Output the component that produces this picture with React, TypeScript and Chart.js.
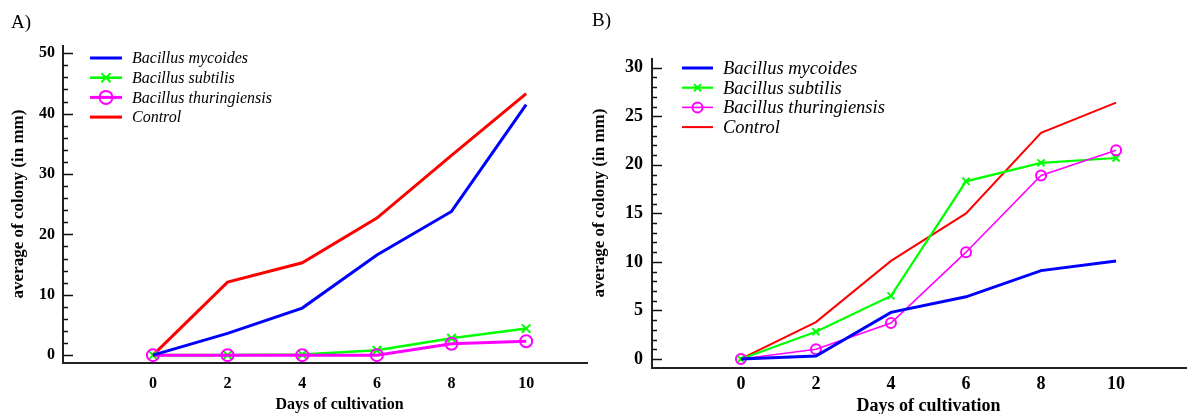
import React, { useEffect, useRef } from "react";
import { Chart, registerables } from "chart.js";

Chart.register(...registerables);

// ---------- DATA ----------
const DAYS = [0, 2, 4, 6, 8, 10];
const X_TICKS = [0, 2, 4, 6, 8, 10];
const SERIES_NAMES = [
  "Bacillus mycoides",
  "Bacillus subtilis",
  "Bacillus thuringiensis",
  "Control",
];

// Panel A
const A_MYCOIDES = [0, 3.6, 7.8, 16.6, 23.8, 41.5];
const A_SUBTILIS = [0, 0, 0.1, 0.8, 2.8, 4.4];
const A_THURINGIENSIS = [0, 0, 0, 0, 1.9, 2.3];
const A_CONTROL = [0, 12.1, 15.3, 22.7, 33.1, 43.3];
const A_Y_TICKS = [0, 10, 20, 30, 40, 50];

// Panel B
const B_MYCOIDES = [0, 0.3, 4.8, 6.4, 9.1, 10.1];
const B_SUBTILIS = [0, 2.8, 6.5, 18.3, 20.2, 20.7];
const B_THURINGIENSIS = [0, 1.0, 3.7, 11.0, 18.9, 21.5];
const B_CONTROL = [0, 3.8, 10.1, 15.0, 23.3, 26.4];
const B_Y_TICKS = [0, 5, 10, 15, 20, 25, 30];

const X_TITLE = "Days of cultivation";
const Y_TITLE = "average of colony (in mm)";

// ---------- STYLE / LAYOUT ----------
const SERIF = '"Liberation Serif", "Times New Roman", serif';
const COLORS = ["#0000ff", "#00ff00", "#ff00ff", "#ff0000"];
const ORDERS = [0, 2, 1, 3];

type Panel = {
  label: string;
  left: number;
  width: number;
  series: number[][];
  yTicks: number[];
  xMin: number;
  xMax: number;
  yMin: number;
  yMax: number;
  minorStep: number;
  majorStep: number;
  yAxisWidth: number;
  xAxisHeight: number;
  padTop: number;
  padRight: number;
  tickSize: number;
  yTickPad: number;
  xTickPad: number;
  lineWidths: number[];
  pointRadius: number;
  legendRadius: number;
  legend: { x0: number; x1: number; tx: number; y0: number; dy: number; size: number };
  yTitle: { x: number; y: number; size: number };
  xTitle: { y: number; size: number };
  panelLabel: { x: number; y: number; size: number };
};

const PANELS: Panel[] = [
  {
    label: "A)",
    left: 0,
    width: 588,
    series: [A_MYCOIDES, A_SUBTILIS, A_THURINGIENSIS, A_CONTROL],
    yTicks: A_Y_TICKS,
    xMin: -2.41,
    xMax: 11.63,
    yMin: -1.3,
    yMax: 51.2,
    minorStep: 2,
    majorStep: 10,
    yAxisWidth: 63,
    xAxisHeight: 51,
    padTop: 46,
    padRight: 1,
    tickSize: 16,
    yTickPad: 8,
    xTickPad: 11,
    lineWidths: [3, 2.6, 3, 3],
    pointRadius: 6,
    legendRadius: 6.5,
    legend: { x0: 90, x1: 122, tx: 132, y0: 58, dy: 19.7, size: 16 },
    yTitle: { x: 19, y: 204, size: 17 },
    xTitle: { y: 405, size: 16 },
    panelLabel: { x: 11, y: 23, size: 19 },
  },
  {
    label: "B)",
    left: 588,
    width: 599,
    series: [B_MYCOIDES, B_SUBTILIS, B_THURINGIENSIS, B_CONTROL],
    yTicks: B_Y_TICKS,
    xMin: -2.37,
    xMax: 11.89,
    yMin: -0.93,
    yMax: 30.9,
    minorStep: 1,
    majorStep: 5,
    yAxisWidth: 64,
    xAxisHeight: 46,
    padTop: 59,
    padRight: 0,
    tickSize: 18,
    yTickPad: 9,
    xTickPad: 6,
    lineWidths: [3, 2.2, 1.6, 2],
    pointRadius: 5,
    legendRadius: 5,
    legend: { x0: 94, x1: 125, tx: 135, y0: 68, dy: 19.7, size: 18.5 },
    yTitle: { x: 12, y: 203, size: 17 },
    xTitle: { y: 406, size: 18 },
    panelLabel: { x: 4, y: 21, size: 19 },
  },
];

function drawMarker(ctx: CanvasRenderingContext2D, style: string, x: number, y: number, r: number) {
  ctx.beginPath();
  if (style === "crossRot") {
    const d = r * Math.SQRT1_2;
    ctx.moveTo(x - d, y - d);
    ctx.lineTo(x + d, y + d);
    ctx.moveTo(x - d, y + d);
    ctx.lineTo(x + d, y - d);
  } else if (style === "circle") {
    ctx.arc(x, y, r, 0, Math.PI * 2);
  }
  ctx.stroke();
}

const decorPlugin = {
  id: "decor",
  afterDraw(chart: any) {
    const p: Panel = chart.options.plugins.decor.panel;
    const ctx: CanvasRenderingContext2D = chart.ctx;
    const { left } = chart.chartArea;
    const ys = chart.scales.y;
    const xs = chart.scales.x;
    ctx.save();

    // inward tick marks on y axis
    ctx.strokeStyle = "#111";
    ctx.lineWidth = 1.5;
    const first = p.yTicks[0];
    const last = p.yTicks[p.yTicks.length - 1];
    for (let v = first; v <= last + 1e-9; v += p.minorStep) {
      const y = Math.round(ys.getPixelForValue(v)) + 0.5;
      const ratio = v / p.majorStep;
      const major = Math.abs(ratio - Math.round(ratio)) < 1e-6;
      const len = major ? 10 : 5;
      ctx.beginPath();
      ctx.moveTo(left, y);
      ctx.lineTo(left + len, y);
      ctx.stroke();
    }

    ctx.fillStyle = "#000";
    // y title
    ctx.save();
    ctx.font = `bold ${p.yTitle.size}px ${SERIF}`;
    ctx.textAlign = "center";
    ctx.textBaseline = "middle";
    ctx.translate(p.yTitle.x, p.yTitle.y);
    ctx.rotate(-Math.PI / 2);
    ctx.fillText(Y_TITLE, 0, 0);
    ctx.restore();

    // x title centered on middle of data range
    ctx.font = `bold ${p.xTitle.size}px ${SERIF}`;
    ctx.textAlign = "center";
    ctx.textBaseline = "middle";
    const mid = (DAYS[0] + DAYS[DAYS.length - 1]) / 2;
    ctx.fillText(X_TITLE, xs.getPixelForValue(mid), p.xTitle.y);

    // panel label
    ctx.font = `${p.panelLabel.size}px ${SERIF}`;
    ctx.textAlign = "left";
    ctx.fillText(p.label, p.panelLabel.x, p.panelLabel.y);

    // legend
    const L = p.legend;
    chart.data.datasets.forEach((ds: any, i: number) => {
      const y = L.y0 + i * L.dy;
      ctx.strokeStyle = ds.borderColor;
      ctx.lineWidth = ds.borderWidth;
      ctx.beginPath();
      ctx.moveTo(L.x0, y);
      ctx.lineTo(L.x1, y);
      ctx.stroke();
      if (ds.pointRadius > 0) {
        ctx.lineWidth = ds.pointBorderWidth;
        drawMarker(ctx, ds.pointStyle, (L.x0 + L.x1) / 2, y, p.legendRadius);
      }
      ctx.fillStyle = "#000";
      ctx.font = `italic ${L.size}px ${SERIF}`;
      ctx.textAlign = "left";
      ctx.textBaseline = "middle";
      ctx.fillText(ds.label, L.tx, y + 1);
    });
    ctx.restore();
  },
};

function buildChart(canvas: HTMLCanvasElement, p: Panel) {
  const styles = [false, "crossRot", "circle", false];
  const datasets = p.series.map((vals, i) => ({
    label: SERIES_NAMES[i],
    data: DAYS.map((d, k) => ({ x: d, y: vals[k] })),
    borderColor: COLORS[i],
    backgroundColor: "transparent",
    borderWidth: p.lineWidths[i],
    pointStyle: styles[i] || "circle",
    pointRadius: styles[i] ? p.pointRadius : 0,
    pointBorderColor: COLORS[i],
    pointBackgroundColor: "transparent",
    pointBorderWidth: 2,
    tension: 0,
    order: ORDERS[i],
    clip: false,
  }));
  const tickFont = { family: SERIF, size: p.tickSize, weight: "bold" as const };
  return new Chart(canvas, {
    type: "line",
    data: { datasets },
    plugins: [decorPlugin],
    options: {
      animation: false,
      responsive: false,
      devicePixelRatio: 1,
      layout: {
        autoPadding: false,
        padding: { left: 0, top: p.padTop, right: p.padRight, bottom: 0 },
      },
      plugins: {
        legend: { display: false },
        tooltip: { enabled: false },
        decor: { panel: p },
      } as any,
      scales: {
        x: {
          type: "linear",
          min: p.xMin,
          max: p.xMax,
          grid: { display: false, drawTicks: false },
          border: { display: true, color: "#222", width: 2 },
          afterBuildTicks: (s: any) => {
            s.ticks = X_TICKS.map((v) => ({ value: v }));
          },
          afterFit: (s: any) => {
            s.height = p.xAxisHeight;
            s.paddingLeft = 0;
            s.paddingRight = 0;
          },
          ticks: {
            color: "#000",
            font: tickFont,
            padding: p.xTickPad,
            maxRotation: 0,
            autoSkip: false,
            callback: (v: any) => String(v),
          },
        },
        y: {
          type: "linear",
          min: p.yMin,
          max: p.yMax,
          grid: { display: false, drawTicks: false },
          border: { display: true, color: "#222", width: 2 },
          afterBuildTicks: (s: any) => {
            s.ticks = p.yTicks.map((v) => ({ value: v }));
          },
          afterFit: (s: any) => {
            s.width = p.yAxisWidth;
            s.paddingTop = 0;
            s.paddingBottom = 0;
          },
          ticks: {
            color: "#000",
            font: tickFont,
            padding: p.yTickPad,
            autoSkip: false,
            callback: (v: any) => String(v),
          },
        },
      },
    } as any,
  });
}

function PanelChart({ p }: { p: Panel }) {
  const ref = useRef<HTMLCanvasElement | null>(null);
  useEffect(() => {
    if (!ref.current) return;
    const c = buildChart(ref.current, p);
    return () => c.destroy();
  }, [p]);
  return (
    <canvas
      ref={ref}
      width={p.width}
      height={414}
      style={{ position: "absolute", left: p.left, top: 0, width: p.width, height: 414 }}
    />
  );
}

export default function App() {
  return (
    <div
      style={{
        position: "fixed",
        left: 0,
        top: 0,
        width: 1187,
        height: 414,
        background: "#fff",
        overflow: "hidden",
      }}
    >
      {PANELS.map((p) => (
        <PanelChart key={p.label} p={p} />
      ))}
    </div>
  );
}
